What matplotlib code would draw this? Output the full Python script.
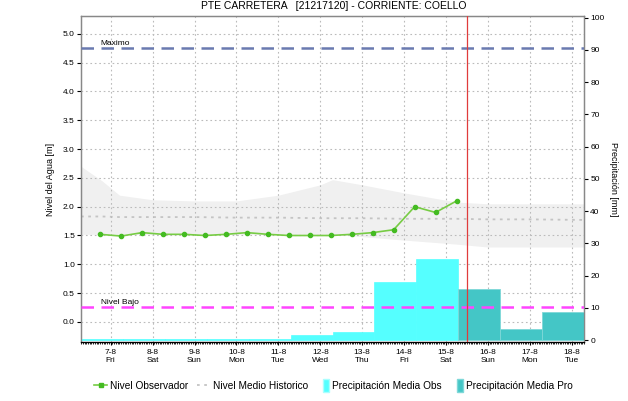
import pandas as pd
import numpy as np
import matplotlib
matplotlib.use("Agg")
import matplotlib.pyplot as plt
import matplotlib.dates as mdates
from matplotlib.lines import Line2D
from matplotlib.patches import Patch, Rectangle
from matplotlib.legend_handler import HandlerPatch

plt.rcParams['font.family'] = ['Liberation Sans', 'DejaVu Sans']

# --- datos ---
# nivel observado cada 12 h
obs_inicio = '2020-08-06 18:00'
nivel_obs = [1.52, 1.49, 1.55, 1.52, 1.52, 1.50, 1.52, 1.55, 1.52,
             1.50, 1.50, 1.50, 1.52, 1.55, 1.60, 2.00, 1.90, 2.10]

# banda historica (min / max) y nivel medio historico
hist_fechas = ['2020-08-06 07:00', '2020-08-06 19:00', '2020-08-07 05:00',
               '2020-08-08 00:00', '2020-08-09 00:00', '2020-08-10 00:00',
               '2020-08-11 00:00', '2020-08-12 00:00', '2020-08-12 07:00',
               '2020-08-13 00:00', '2020-08-14 00:00', '2020-08-15 06:00',
               '2020-08-16 00:00', '2020-08-17 00:00', '2020-08-18 07:00']
hist_max = [2.70, 2.45, 2.20, 2.12, 2.10, 2.10, 2.20, 2.38, 2.47,
            2.38, 2.24, 2.08, 2.05, 2.05, 2.05]
hist_min = [1.52, 1.52, 1.52, 1.52, 1.52, 1.52, 1.52, 1.52, 1.52,
            1.48, 1.42, 1.35, 1.30, 1.30, 1.30]
hist_medio = [1.83, 1.83, 1.82, 1.82, 1.82, 1.81, 1.81, 1.80, 1.80,
              1.80, 1.79, 1.79, 1.78, 1.78, 1.77]

# precipitacion diaria (dias desde las 07:00)
prec_obs_inicio = '2020-08-06 07:00'
prec_obs = [0.4, 0.4, 0.4, 0.4, 0.4, 1.5, 2.5, 18.1, 25.2]
prec_pro_inicio = '2020-08-15 07:00'
prec_pro = [16.0, 3.5, 8.7]

nivel_maximo = 4.75
nivel_bajo = 0.25
ahora = '2020-08-15 12:00'

dias = pd.date_range('2020-08-07', '2020-08-18', freq='D')
etiquetas_x = [f"{d.day}-{d.month}\n{d.strftime('%a')}" for d in dias]

COLOR_OBS = '#55FFFF'
COLOR_PRO = '#44C6C6'
VERDE = '#77CC44'


def rect_estrecho(legend, orig_handle, xdescent, ydescent, width, height, fontsize):
    # rectangulo estrecho y alto para la leyenda de barras
    w = width * 0.45
    return Rectangle((-xdescent + width - w, -ydescent - 1.5), w, height + 3)


# --- figura ---
fig = plt.figure(figsize=(6.28, 4.01), dpi=100)
pos = [0.129, 0.147, 0.801, 0.813]
ax = fig.add_axes(pos)
ax2 = ax.twinx()
# capa superior para lineas de nivel (encima de las barras)
a2 = fig.add_axes(pos, sharex=ax, sharey=ax)
a2.axis('off')
a2.patch.set_visible(False)

t_obs = pd.date_range(obs_inicio, periods=len(nivel_obs), freq='12h')
t_hist = pd.to_datetime(hist_fechas)
t_prec_obs = pd.date_range(prec_obs_inicio, periods=len(prec_obs), freq='D')
t_prec_pro = pd.date_range(prec_pro_inicio, periods=len(prec_pro), freq='D')

# barras de precipitacion en el eje derecho
ax2.bar(t_prec_obs, prec_obs, width=1.0, align='edge', color=COLOR_OBS,
        edgecolor=COLOR_OBS, linewidth=0.5, zorder=2)
ax2.bar(t_prec_pro, prec_pro, width=1.0, align='edge', color=COLOR_PRO,
        edgecolor='#7FD8D8', linewidth=0.6, zorder=2)
ax2.set_ylim(-0.6, 100.5)
ax2.set_yticks(np.arange(0, 101, 10))
ax2.set_ylabel('Precipitación [mm]', rotation=-90, labelpad=10, fontsize=6.5)
ax2.tick_params(axis='y', labelsize=6, length=3, width=0.8, pad=1.5)

# el eje izquierdo (banda y rejilla) queda debajo de las barras
ax.set_zorder(ax2.get_zorder() - 1)
ax2.patch.set_visible(False)
a2.set_zorder(ax2.get_zorder() + 1)

ax.fill_between(t_hist, hist_min, hist_max, color='#F0F0F0', lw=0, zorder=1)
ax.grid(True, color='#BBBBBB', linestyle=(0, (1.5, 2.5)), linewidth=0.8)
ax.set_axisbelow(False)
for gl in ax.get_xgridlines() + ax.get_ygridlines():
    gl.set_zorder(1.5)
ax.plot(t_hist, hist_medio, color='#C4C4C4', linestyle=(0, (1.5, 2.5)),
        linewidth=1.3, zorder=1.6)

a2.axhline(nivel_maximo, color='#6A7AB0', linestyle=(0, (5, 3)), linewidth=1.8)
a2.axhline(nivel_bajo, color='#FF44FF', linestyle=(0, (5, 3)), linewidth=1.8)
a2.plot(t_obs, nivel_obs, color=VERDE, linewidth=1.2,
        marker='o', markersize=3, markerfacecolor='#44BB22',
        markeredgecolor='#44BB22')
a2.axvline(pd.Timestamp(ahora), color='#E03C3C', linewidth=0.9)
a2.text(pd.Timestamp('2020-08-06 18:00'), nivel_maximo + 0.03, 'Maximo',
        fontsize=6, va='bottom', ha='left')
a2.text(pd.Timestamp('2020-08-06 18:30'), nivel_bajo + 0.03, 'Nivel Bajo',
        fontsize=6, va='bottom', ha='left')

ax.set_ylim(-0.35, 5.31)
ax.set_yticks(np.arange(0, 5.01, 0.5))
ax.set_yticklabels([f'{v:.1f}' for v in np.arange(0, 5.01, 0.5)])
ax.set_ylabel('Nivel del Agua [m]', fontsize=6.5, labelpad=6)
ax.tick_params(axis='y', labelsize=6, length=3, width=0.8, pad=1.5)

xlim = (pd.Timestamp('2020-08-06 07:00'), pd.Timestamp('2020-08-18 07:00'))
ax.set_xlim(xlim)
ax.set_xticks(dias)
ax.set_xticklabels(etiquetas_x)
ax.xaxis.set_minor_locator(mdates.HourLocator(interval=1))
ax.tick_params(axis='x', which='major', labelsize=6, length=2, width=0.8, pad=3)
ax.tick_params(axis='x', which='minor', length=1.5, width=0.6)

for a in (ax, ax2):
    for s in a.spines.values():
        s.set_color('#888888')
        s.set_linewidth(0.9)
ax2.spines['bottom'].set_color('black')

fig.suptitle('PTE CARRETERA   [21217120] - CORRIENTE: COELLO',
             fontsize=7.5, x=0.531, y=0.998, va='top')

handles = [
    Line2D([], [], color=VERDE, lw=1.2, marker='s', markersize=2.5,
           markerfacecolor='#44BB22', markeredgecolor='#44BB22'),
    Line2D([], [], color='#C4C4C4', lw=1.3, linestyle=(0, (1.5, 2.5))),
    Patch(facecolor=COLOR_OBS, edgecolor='#AAFFFF'),
    Patch(facecolor=COLOR_PRO, edgecolor='#7FD8D8'),
]
labels = ['Nivel Observador', 'Nivel Medio Historico',
          'Precipitación Media Obs', 'Precipitación Media Pro']
fig.legend(handles, labels, loc='center', bbox_to_anchor=(0.531, 0.037),
           ncol=4, frameon=False, fontsize=7.3, handlelength=1.3,
           handletextpad=0.3, columnspacing=0.8, handleheight=1.0,
           handler_map={Patch: HandlerPatch(patch_func=rect_estrecho)})

fig.savefig('out.png', dpi=100)
